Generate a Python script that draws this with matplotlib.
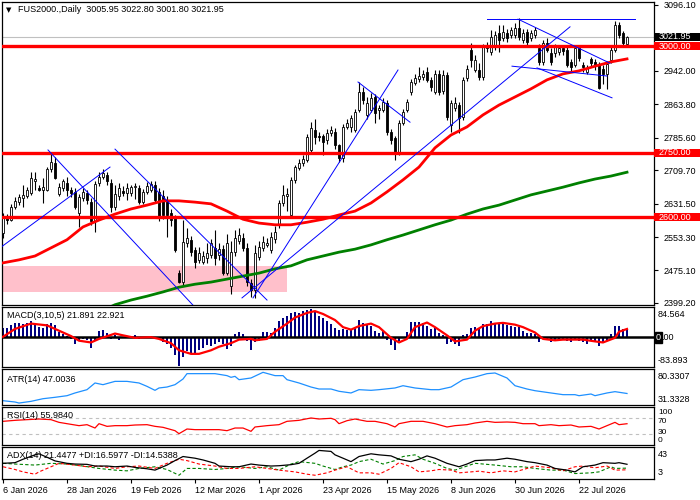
import numpy as np
import matplotlib
matplotlib.use('Agg')
import matplotlib.pyplot as plt
from matplotlib.patches import Rectangle
from matplotlib.transforms import blended_transform_factory

plt.rcParams['font.family'] = ['Liberation Sans', 'DejaVu Sans']
plt.rcParams['font.size'] = 6.5

# daily candles (open, high, low, close)
opens = [2563, 2602, 2594, 2624, 2635, 2645, 2649, 2656, 2685, 2668,
         2663, 2663, 2712, 2726, 2654, 2668, 2680, 2663, 2659, 2610,
         2645, 2656, 2635, 2590, 2680, 2694, 2698, 2680, 2624, 2650,
         2662, 2657, 2656, 2670, 2668, 2636, 2659, 2664, 2675, 2659,
         2650, 2640, 2610, 2600, 2469, 2448, 2540, 2547, 2523, 2500,
         2495, 2505, 2512, 2528, 2512, 2526, 2470, 2440, 2518, 2545,
         2550, 2528, 2446, 2429, 2507, 2528, 2535, 2523, 2548, 2582,
         2633, 2650, 2605, 2687, 2715, 2726, 2733, 2757, 2804, 2790,
         2790, 2780, 2797, 2800, 2768, 2738, 2810, 2810, 2804, 2851,
         2893, 2839, 2851, 2881, 2850, 2851, 2867, 2799, 2785, 2752,
         2820, 2851, 2893, 2914, 2923, 2928, 2940, 2921, 2893, 2935,
         2895, 2932, 2815, 2855, 2862, 2834, 2925, 2991, 2944, 2944,
         2928, 3002, 2986, 2998, 3030, 3019, 3030, 3026, 3026, 3042,
         3014, 3033, 3019, 3026, 2995, 2963, 3007, 2984, 2984, 2986,
         2996, 2991, 2963, 2956, 2996, 2956, 2940, 2970, 2963, 2956,
         2946, 2935, 2967, 2991, 3049, 3030, 3005.95]
highs = [2610, 2608, 2630, 2648, 2655, 2675, 2670, 2706, 2705, 2675,
         2691, 2717, 2750, 2740, 2680, 2690, 2694, 2670, 2668, 2655,
         2668, 2664, 2645, 2684, 2705, 2712, 2705, 2688, 2675, 2680,
         2672, 2680, 2675, 2680, 2675, 2665, 2683, 2684, 2684, 2668,
         2663, 2650, 2620, 2606, 2476, 2593, 2575, 2556, 2530, 2530,
         2520, 2540, 2548, 2570, 2540, 2535, 2560, 2545, 2570, 2575,
         2562, 2540, 2455, 2535, 2545, 2555, 2550, 2565, 2580, 2640,
         2675, 2668, 2693, 2722, 2735, 2745, 2795, 2823, 2830, 2800,
         2795, 2805, 2812, 2808, 2772, 2818, 2830, 2838, 2852, 2916,
         2905, 2880, 2890, 2888, 2862, 2878, 2875, 2805, 2790, 2828,
         2852, 2876, 2922, 2935, 2950, 2945, 2950, 2928, 2945, 2945,
         2945, 2940, 2875, 2880, 2870, 2928, 2955, 3008, 2978, 2960,
         3005, 3010, 3038, 3035, 3049, 3049, 3040, 3045, 3055, 3066,
         3040, 3040, 3038, 3045, 3005, 3015, 3020, 2995, 3005, 3003,
         3002, 2998, 2970, 3002, 3000, 2963, 2955, 2975, 2970, 2962,
         2955, 2965, 2998, 3058, 3056, 3035, 3022.80]
lows = [2551, 2585, 2590, 2618, 2628, 2624, 2645, 2652, 2664, 2660,
        2633, 2660, 2706, 2688, 2650, 2660, 2650, 2648, 2620, 2577,
        2638, 2630, 2582, 2565, 2672, 2690, 2676, 2612, 2617, 2640,
        2650, 2640, 2650, 2642, 2630, 2630, 2655, 2658, 2632, 2590,
        2595, 2553, 2580, 2518, 2445, 2440, 2530, 2510, 2481, 2492,
        2490, 2493, 2505, 2488, 2500, 2465, 2465, 2420, 2510, 2538,
        2520, 2440, 2413, 2410, 2500, 2520, 2530, 2515, 2540, 2575,
        2625, 2615, 2600, 2680, 2710, 2720, 2728, 2750, 2770, 2778,
        2745, 2772, 2790, 2760, 2730, 2728, 2805, 2800, 2798, 2845,
        2865, 2830, 2845, 2820, 2830, 2845, 2792, 2770, 2734, 2745,
        2815, 2845, 2885, 2908, 2915, 2920, 2915, 2895, 2888, 2885,
        2888, 2828, 2800, 2848, 2796, 2828, 2918, 2950, 2940, 2920,
        2920, 2985, 2980, 2992, 2986, 3012, 3010, 3018, 3020, 3015,
        3008, 3000, 3012, 3020, 2955, 2955, 2985, 2955, 2975, 2980,
        2978, 2950, 2940, 2950, 2965, 2940, 2935, 2950, 2945, 2900,
        2912, 2900, 2960, 2985, 3018, 3000, 3001.80]
closes = [2600, 2594, 2624, 2638, 2647, 2652, 2663, 2691, 2688, 2664,
          2670, 2712, 2729, 2691, 2670, 2684, 2664, 2656, 2624, 2647,
          2659, 2640, 2590, 2677, 2694, 2703, 2684, 2624, 2654, 2668,
          2657, 2668, 2670, 2672, 2636, 2659, 2673, 2677, 2640, 2600,
          2605, 2605, 2593, 2523, 2448, 2542, 2552, 2519, 2495, 2516,
          2509, 2516, 2540, 2505, 2526, 2470, 2540, 2518, 2552, 2558,
          2527, 2448, 2429, 2516, 2530, 2542, 2540, 2553, 2565, 2633,
          2652, 2655, 2687, 2717, 2726, 2735, 2787, 2808, 2787, 2787,
          2775, 2797, 2804, 2768, 2738, 2810, 2820, 2832, 2846, 2893,
          2874, 2867, 2879, 2844, 2855, 2869, 2799, 2780, 2750, 2820,
          2846, 2869, 2916, 2925, 2930, 2935, 2921, 2904, 2935, 2893,
          2933, 2834, 2867, 2867, 2832, 2921, 2946, 2967, 2967, 2928,
          2998, 2995, 3021, 3026, 3014, 3033, 3019, 3038, 3042, 3021,
          3030, 3010, 3030, 3038, 2963, 3007, 2991, 2963, 2998, 2996,
          2988, 2956, 2951, 2996, 2972, 2951, 2948, 2960, 2956, 2902,
          2935, 2958, 2991, 3049, 3026, 3007, 3021.95]

# moving averages (red ~ 50, green ~ 200), sampled every 4 bars
ma_red_bars = list(range(0, 157, 4))
ma_red = [2493, 2500, 2509, 2528, 2547, 2577, 2593, 2607, 2619, 2628,
          2638, 2638, 2635, 2631, 2614, 2595, 2586, 2582, 2582, 2588,
          2595, 2605, 2614, 2633, 2659, 2687, 2717, 2762, 2792, 2811,
          2839, 2862, 2881, 2900, 2921, 2935, 2942, 2953, 2963, 2970]
ma_green_bars = list(range(24, 157, 4))
ma_green = [2378, 2395, 2406, 2415, 2425, 2436, 2443, 2448, 2455, 2462,
            2469, 2479, 2486, 2500, 2509, 2518, 2525, 2535, 2547, 2558,
            2570, 2582, 2593, 2607, 2619, 2628, 2640, 2652, 2661, 2670,
            2680, 2689, 2696, 2705]

levels = [3000, 2750, 2600]
last_price = 3021.95
zone = (2425, 2485, 71)   # low, high, last bar of the pink box

# hand-drawn trend lines: bar0, price0, bar1, price1
trend_b0 = [-0.75, 11.25, 28, 62.5, 59.75, 88.75, 121, 128.75, 127.25, 133.5]
trend_p0 = [2528, 2757, 2759, 2411, 2411, 2916, 3063, 3063, 2953, 2949]
trend_b1 = [26.75, 47.5, 66, 98.75, 141.75, 101.75, 158, 151.75, 151, 152.25]
trend_p1 = [2717, 2394, 2406, 2944, 3045, 2822, 3063, 2960, 2930, 2879]

price_ticks = [3096.10, 2942.00, 2863.80, 2785.60, 2709.70, 2631.50, 2553.30, 2475.10, 2399.20]
date_labels = ['6 Jan 2026', '28 Jan 2026', '19 Feb 2026', '12 Mar 2026', '1 Apr 2026',
               '23 Apr 2026', '15 May 2026', '8 Jun 2026', '30 Jun 2026', '22 Jul 2026']

# MACD(3,10,5)
macd_hist = [25, 25, 35, 40, 40, 38, 40, 45, 38, 28,
             25, 38, 40, 35, 15, 10, 2, -5, -18, -12,
             -5, -8, -30, -8, 18, 20, 12, -5, 5, -8,
             -3, -2, 3, 5, -5, -3, -1, 3, -2, -5,
             -15, -20, -30, -50, -80, -55, -40, -45, -45, -35,
             -30, -22, -25, -18, -15, -20, -32, -25, 10, 15,
             10, -10, -35, -15, -10, 15, 15, 12, 25, 45,
             55, 60, 68, 70, 68, 72, 75, 78, 72, 60,
             55, 45, 38, 25, 20, 22, 20,
             20, 25, 48, 40, 35, 30, 18, 12, 18, -8,
             -22, -35, -12, -3, 15, 42, 42, 42, 40, 30,
             22, 25, 12, 5, -18, -15, -18, -25, 5, 10,
             25, 28, 22, 38, 38, 45, 40, 38, 40, 35,
             30, 28, 28, 18, 12, 12, 8, -15, -5, -8,
             -15, -8, -10, -8, -10, -15, -5, -10, -15, -18,
             -10, -12, -25, -15, -10, 8, 30, 30, 22, 21.9]
sig_bars = [0, 3, 7, 11, 14, 17, 19, 22, 24, 28, 30, 33, 37, 39, 42, 44, 47, 49, 52, 54,
            57, 59, 62, 63, 66, 68, 71, 73, 76, 78, 80, 83, 85, 87, 89, 92, 94, 97, 99, 101,
            103, 106, 108, 111, 113, 116, 118, 120, 123, 125, 128, 130, 133, 135, 138, 140,
            143, 145, 148, 150, 153, 154, 156]
sig_vals = [1, 23, 38, 33, 18, 3, -10, -15, -5, 10, 5, -2, 0, -5, -17, -37, -47, -47, -37, -27,
            -17, -7, -5, -9, -5, 15, 38, 55, 68, 73, 65, 48, 28, 21, 31, 38, 28, -2, -15, -5,
            28, 41, 28, 5, -12, -7, 18, 31, 38, 40, 35, 28, 13, -5, -9, -7,
            -7, -7, -12, -15, -2, 15, 22.9]

# ATR(14)
atr_bars = [0, 3, 4, 7, 10, 13, 16, 18, 21, 23, 25, 28, 31, 34, 36, 38, 39, 41, 43, 45,
            46, 49, 53, 56, 57, 58, 59, 62, 65, 68, 70, 71, 74, 77, 79, 82, 84, 87, 89, 92,
            94, 98, 100, 103, 107, 109, 112, 115, 118, 121, 123, 126, 128, 131, 133, 137,
            140, 143, 144, 147, 148, 151, 153, 156]
atr_vals = [37.2, 35.4, 34.0, 36.3, 39.9, 41.8, 44.0, 47.7, 52.2, 61.3, 59.0, 63.5, 63.5, 61.3,
            56.7, 51.3, 54.5, 55.8, 59.0, 66.7, 74.0, 74.0, 74.0, 71.3, 69.0, 70.3, 65.8, 68.1,
            75.8, 71.3, 71.3, 65.8, 61.3, 55.8, 53.1, 53.1, 50.0, 47.7, 52.2, 51.3, 52.2, 54.5,
            57.6, 54.5, 52.2, 52.2, 55.8, 65.8, 69.4, 74.0, 74.9, 68.1, 57.6, 53.1, 50.8, 47.7,
            45.4, 45.4, 44.0, 46.3, 44.0, 47.7, 49.5, 47.0]

# RSI(14)
rsi_bars = [0, 3, 6, 9, 12, 14, 16, 19, 21, 23, 24, 26, 28, 31, 33, 36, 38, 40, 43, 44,
            46, 48, 51, 54, 56, 58, 60, 62, 63, 66, 69, 71, 74, 77, 79, 82, 83, 84, 86, 88,
            91, 93, 96, 98, 99, 102, 105, 108, 111, 113, 116, 118, 121, 123, 126, 128, 130,
            133, 134, 137, 139, 142, 144, 147, 149, 151, 153, 154, 156]
rsi_vals = [62.3, 64.9, 66.7, 68.4, 66.7, 59.6, 56.1, 50.9, 53.5, 44.7, 56.1, 49.1, 50.9, 50.9,
            52.6, 53.5, 49.1, 46.5, 37.7, 29.8, 42.1, 40.4, 40.4, 40.4, 37.7, 44.7, 44.7, 36.0,
            47.4, 50.9, 53.5, 62.3, 64.9, 71.1, 68.4, 70.2, 66.7, 56.1, 64.0, 68.4, 62.3, 62.3,
            56.1, 47.4, 56.1, 62.3, 62.3, 56.1, 47.4, 50.9, 53.5, 57.9, 62.3, 59.6, 60.5, 59.6,
            56.1, 56.1, 50.9, 53.5, 50.9, 52.6, 47.4, 49.1, 42.1, 50.9, 59.6, 53.5, 56.0]

# ADX(14), +DI, -DI
adx_bars = [0, 3, 5, 8, 9, 11, 13, 16, 18, 21, 23, 26, 28, 31, 33, 36, 38, 39, 41, 43,
            45, 48, 50, 53, 54, 57, 59, 62, 64, 67, 69, 72, 74, 76, 78, 79, 82, 83, 85, 87,
            89, 92, 94, 97, 99, 102, 104, 106, 108, 111, 114, 116, 118, 121, 123, 126, 128,
            131, 133, 136, 138, 141, 143, 145, 148, 150, 153, 154, 156]
adx_vals = [22.6, 23.4, 27.7, 33.2, 34.5, 30.2, 25.6, 22.6, 21.7, 21.3, 19.2, 19.2, 18.3, 19.2,
            17.5, 15.8, 14.1, 16.2, 20.4, 26.0, 31.1, 29.0, 26.8, 22.6, 19.2, 18.3, 18.3, 21.7,
            20.4, 19.2, 19.6, 20.9, 22.6, 29.0, 35.3, 38.7, 37.5, 33.2, 29.0, 24.7, 31.1, 34.5,
            33.2, 31.9, 27.7, 24.7, 27.7, 31.9, 29.0, 22.6, 18.3, 21.7, 26.0, 26.8, 26.8, 29.0,
            27.7, 24.7, 23.4, 20.4, 16.2, 14.1, 11.9, 18.3, 20.4, 23.4, 22.6, 23.4, 21.4]
pdi_bars = [0, 3, 8, 12, 16, 20, 24, 28, 31, 34, 38, 41, 44, 46, 49, 53, 56, 59, 63, 66,
            69, 72, 74, 78, 80, 83, 85, 87, 89, 92, 95, 98, 100, 103, 105, 108, 111, 113, 116,
            118, 121, 123, 127, 130, 133, 137, 140, 143, 147, 149, 152, 153, 156]
pdi_vals = [22.6, 21.7, 20.4, 22.6, 21.7, 19.2, 16.2, 14.1, 13.2, 16.2, 18.3, 14.9, 7.7, 16.2,
            16.2, 14.9, 16.2, 18.3, 16.2, 18.3, 14.1, 21.7, 24.7, 22.6, 19.2, 14.9, 18.3, 20.4,
            24.7, 27.7, 21.7, 26.0, 31.1, 33.2, 27.7, 22.6, 16.2, 14.1, 19.2, 22.6, 21.3, 20.4,
            18.3, 18.3, 16.2, 14.1, 14.1, 9.8, 10.7, 11.9, 18.3, 16.2, 16.6]
mdi_bars = [0, 3, 5, 8, 9, 12, 14, 18, 21, 24, 28, 31, 34, 38, 41, 44, 46, 49, 53, 56,
            59, 63, 66, 69, 73, 76, 78, 81, 83, 86, 89, 92, 94, 97, 99, 102, 104, 107, 109,
            112, 114, 117, 119, 122, 125, 128, 131, 133, 137, 140, 143, 145, 148, 151, 153, 156]
mdi_vals = [18.3, 14.9, 11.9, 9.0, 11.9, 18.3, 22.6, 20.4, 18.3, 19.2, 16.2, 18.3, 19.2, 16.2,
            22.6, 27.7, 26.0, 21.7, 19.2, 16.2, 16.2, 18.3, 16.2, 14.1, 11.9, 9.0, 7.7, 10.7,
            14.1, 18.3, 10.7, 10.7, 9.0, 16.2, 23.4, 18.3, 11.9, 13.2, 14.9, 14.1, 10.7, 11.9,
            12.8, 10.7, 13.2, 11.9, 16.2, 19.2, 17.0, 13.2, 18.3, 19.2, 17.0, 19.2, 14.1, 14.5]

opens = np.array(opens, float)
highs = np.array(highs, float)
lows = np.array(lows, float)
closes = np.array(closes, float)
n = len(closes)
idx = np.arange(n)

fig = plt.figure(figsize=(7, 5), dpi=100)
W, H = 700.0, 500.0


def place(x0, y0, x1, y1):
    return fig.add_axes([x0 / W, 1 - y1 / H, (x1 - x0) / W, (y1 - y0) / H])


ax = place(2, 2, 654, 305)
ax_macd = place(2, 307, 654, 367)
ax_atr = place(2, 369, 654, 405)
ax_rsi = place(2, 407, 654, 445)
ax_adx = place(2, 447, 654, 479)
panels = [ax, ax_macd, ax_atr, ax_rsi, ax_adx]
for a in panels:
    a.set_xlim(-0.25, 162.75)
    a.tick_params(left=False, labelleft=False, bottom=False, labelbottom=False,
                  right=False, labelright=False)
    for s in a.spines.values():
        s.set_linewidth(0.9)
        s.set_color('black')


def rx(px):
    return 1 + px / 652.0


# ---- main price panel
ax.set_ylim(2394.4, 3103.1)
ax.add_patch(Rectangle((-0.25, zone[0]), zone[2] + 0.25, zone[1] - zone[0],
                       facecolor='#ffc0cb', edgecolor='none', zorder=1))
ax.axhline(last_price, color='#c0c0c0', lw=0.8, zorder=1.5)
ax.vlines(idx, lows, highs, color='black', lw=0.8, zorder=2)
up = closes >= opens
body_lo = np.minimum(opens, closes)
body_h = np.maximum(np.abs(closes - opens), 1.5)
ax.bar(idx, body_h, 0.68, bottom=body_lo, color=np.where(up, 'white', 'black'),
       edgecolor='black', linewidth=0.6, zorder=3)
ax.plot(ma_red_bars, ma_red, color='#ff0000', lw=2.0, zorder=4)
ax.plot(ma_green_bars, ma_green, color='#008000', lw=2.0, zorder=4)
for lv in levels:
    ax.axhline(lv, color='#ff0000', lw=2.4, zorder=5)
for b0, p0, b1, p1 in zip(trend_b0, trend_p0, trend_b1, trend_p1):
    ax.plot([b0, b1], [p0, p1], color='#0000ff', lw=0.7, zorder=6)

ax.yaxis.tick_right()
ax.set_yticks(price_ticks)
ax.set_yticklabels(['%.2f' % v for v in price_ticks])
ax.tick_params(right=True, labelright=True, length=3, width=0.8, pad=4, labelsize=6.5)

trans = blended_transform_factory(ax.transAxes, ax.transData)
for lv in levels:
    ax.add_patch(Rectangle((rx(0), lv - 9.5), 46 / 652.0, 19, transform=trans,
                           facecolor='#ff0000', edgecolor='none', clip_on=False, zorder=7))
    ax.text(rx(5), lv, '%.2f' % lv, transform=trans, color='white', va='center',
            ha='left', fontsize=6.5, zorder=8, clip_on=False)
ax.add_patch(Rectangle((rx(0), last_price - 9.5), 46 / 652.0, 19, transform=trans,
                       facecolor='black', edgecolor='none', clip_on=False, zorder=7))
ax.text(rx(5), last_price, '%.2f' % last_price, transform=trans, color='white',
        va='center', ha='left', fontsize=6.5, zorder=8, clip_on=False)

fig.text(6 / W, 1 - 10 / H, '\u25bc', fontsize=5, va='center', ha='left',
         family=['DejaVu Sans'])
fig.text(18 / W, 1 - 10 / H, 'FUS2000.,Daily  %.2f %.2f %.2f %.2f'
         % (opens[-1], highs[-1], lows[-1], closes[-1]), fontsize=6.5, va='center', ha='left')

# ---- MACD panel
ax_macd.set_ylim(-83.893, 84.564)
ax_macd.bar(idx, macd_hist, 0.62, color='#000080', zorder=2)
ax_macd.axhline(0, color='black', lw=1.8, zorder=3)
ax_macd.plot(sig_bars, sig_vals, color='#ff0000', lw=1.6, zorder=4)
ax_macd.text(0.008, 0.85, 'MACD(3,10,5) %.3f %.3f' % (21.891, 22.921), transform=ax_macd.transAxes,
             va='center', ha='left', fontsize=6.5)
fig.text(658 / W, 1 - 314.3 / H, '84.564', fontsize=6.5, va='center', ha='left')
fig.text(658 / W, 1 - 360.7 / H, '-83.893', fontsize=6.5, va='center', ha='left')
fig.text(656 / W, 1 - 337.7 / H, '0', fontsize=6.5, va='center', ha='left', color='white',
         bbox=dict(boxstyle='square,pad=0.1', fc='black', ec='black'))
fig.text(661 / W, 1 - 337.7 / H, '.00', fontsize=6.5, va='center', ha='left')

# ---- ATR panel
ax_atr.set_ylim(31.3328, 80.3307)
ax_atr.plot(atr_bars, atr_vals, color='#1e90ff', lw=0.9)
ax_atr.text(0.008, 0.72, 'ATR(14) 47.0036', transform=ax_atr.transAxes,
            va='center', ha='left', fontsize=6.5)
fig.text(658 / W, 1 - 376.7 / H, '80.3307', fontsize=6.5, va='center', ha='left')
fig.text(658 / W, 1 - 399 / H, '31.3328', fontsize=6.5, va='center', ha='left')

# ---- RSI panel
ax_rsi.set_ylim(0, 100)
for lv in (70, 30):
    ax_rsi.axhline(lv, color='#c0c0c0', lw=0.8, ls=(0, (3, 3)))
ax_rsi.plot(rsi_bars, rsi_vals, color='#ff0000', lw=0.9)
ax_rsi.text(0.008, 0.78, 'RSI(14) 55.9840', transform=ax_rsi.transAxes,
            va='center', ha='left', fontsize=6.5)
for txt, yp in (('100', 412.5), ('70', 421.5), ('30', 432.5), ('0', 441)):
    fig.text(658 / W, 1 - yp / H, txt, fontsize=6, va='center', ha='left')

# ---- ADX panel
ax_adx.set_ylim(3, 43)
ax_adx.plot(pdi_bars, pdi_vals, color='#008000', lw=0.8, ls=(0, (3, 2)))
ax_adx.plot(mdi_bars, mdi_vals, color='#ff0000', lw=0.8, ls=(0, (3, 2)))
ax_adx.plot(adx_bars, adx_vals, color='black', lw=0.9)
ax_adx.text(0.008, 0.72, 'ADX(14) 21.4477 +DI:16.5977 -DI:14.5388', transform=ax_adx.transAxes,
            va='center', ha='left', fontsize=6.5)
fig.text(658 / W, 1 - 454.3 / H, '43', fontsize=6.5, va='center', ha='left')
fig.text(658 / W, 1 - 472.3 / H, '3', fontsize=6.5, va='center', ha='left')

ax_adx.set_xticks(range(0, 16 * len(date_labels), 16))
ax_adx.set_xticklabels(date_labels)
ax_adx.tick_params(bottom=True, labelbottom=True, length=3, width=0.8, pad=2, labelsize=6.5)
for lbl in ax_adx.get_xticklabels():
    lbl.set_ha('left')

fig.savefig('out.png', dpi=100)
